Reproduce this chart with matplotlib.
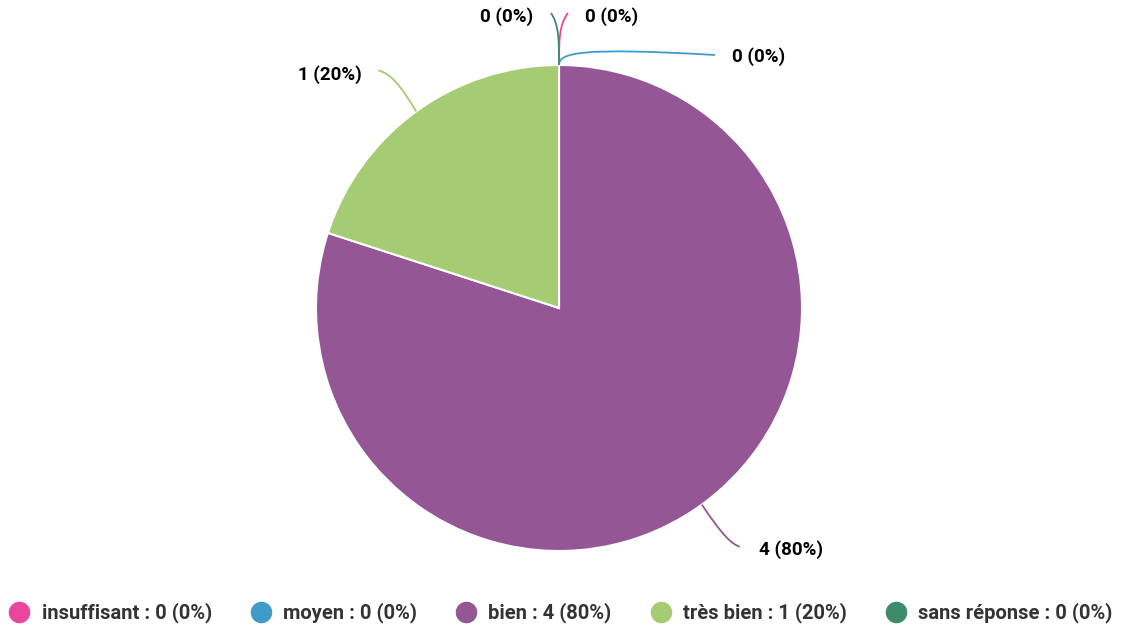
import matplotlib.pyplot as plt
import numpy as np
from matplotlib.path import Path
from matplotlib.patches import PathPatch
from matplotlib.lines import Line2D

plt.rcParams['font.family'] = ['Roboto', 'DejaVu Sans']

# Données
categories = ["insuffisant", "moyen", "bien", "très bien", "sans réponse"]
valeurs = [0, 0, 4, 1, 0]
couleurs = ["#e9479b", "#419bc8", "#945694", "#a5cc72", "#3c8c6c"]

total = sum(valeurs)
pourcents = [round(100 * v / total) for v in valeurs]

W, H = 1121, 628
fig = plt.figure(figsize=(W / 100, H / 100), dpi=100)
ax = fig.add_axes([0, 0, 1, 1])

cx, cy, r = 559, 320, 243
wedges, _ = ax.pie(valeurs, colors=couleurs, startangle=90, counterclock=False,
                   center=(cx, cy), radius=r, normalize=True, frame=True,
                   wedgeprops=dict(edgecolor="white", linewidth=1.5))
ax.set_xlim(0, W)
ax.set_ylim(0, H)
ax.set_aspect("equal")
ax.axis("off")

# Lignes de rappel (courbes) : décalages relatifs au point du bord
# (c1, c2, fin, position du texte, alignement)
rappels = {
    "insuffisant": ((0, 25), (0, 40), (9, 52), (26, 48), "left"),
    "moyen": ((0, 12), (20, 18), (156, 10), (173, 8), "left"),
    "bien": ((20, -30), (30, -40), (38, -42), (57, -45), "left"),
    "très bien": ((-15, 25), (-25, 38), (-38, 41), (-54, 37), "right"),
    "sans réponse": ((0, 25), (0, 40), (-8, 52), (-26, 48), "right"),
}

for w, cat, v, p, col in zip(wedges, categories, valeurs, pourcents, couleurs):
    ang = np.deg2rad((w.theta1 + w.theta2) / 2)
    x0, y0 = cx + r * np.cos(ang), cy + r * np.sin(ang)
    c1, c2, fin, txt, ha = rappels[cat]
    pts = [(x0, y0), (x0 + c1[0], y0 + c1[1]), (x0 + c2[0], y0 + c2[1]),
           (x0 + fin[0], y0 + fin[1])]
    path = Path(pts, [Path.MOVETO, Path.CURVE4, Path.CURVE4, Path.CURVE4])
    ax.add_patch(PathPatch(path, fill=False, edgecolor=col, linewidth=1.3))
    ax.text(x0 + txt[0], y0 + txt[1], f"{v} ({p}%)", ha=ha, va="center",
            fontsize=13.5, fontweight="bold", color="black")

# Légende
handles = [Line2D([], [], marker="o", linestyle="none", markersize=14.5,
                  markerfacecolor=c, markeredgecolor=c) for c in couleurs]
labels = [f"{c} : {v} ({p}%)" for c, v, p in zip(categories, valeurs, pourcents)]
leg = fig.legend(handles, labels, loc="center", bbox_to_anchor=(561 / W, 1 - 613 / H),
                 ncol=5, frameon=False, handletextpad=0.6, columnspacing=1.94,
                 handlelength=1.0, prop=dict(size=14.5, weight="bold"))
for t in leg.get_texts():
    t.set_color("#333333")

fig.savefig("out.png", dpi=100)
